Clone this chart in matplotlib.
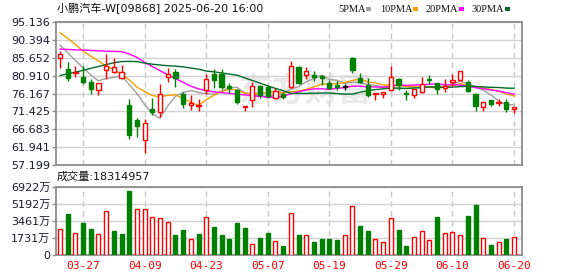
import matplotlib
matplotlib.use("Agg")
import matplotlib.pyplot as plt
from matplotlib.patches import Rectangle
import numpy as np

# 小鹏汽车 daily K-line, 60 sessions up to 2025-06-20
title = "小鹏汽车-W[09868] 2025-06-20 16:00"
vol_title = "成交量:18314957"
date_labels = ["03-27", "04-09", "04-23", "05-07", "05-19", "05-29", "06-10", "06-20"]
date_index = [3, 11, 19, 27, 35, 43, 51, 59]

price_ticks = [57.199, 61.941, 66.683, 71.425, 76.167, 80.910, 85.652, 90.394, 95.136]
vol_ticks = [0, 1731, 3461, 5192, 6922]  # 万股

opens = [85.52, 82.70, 81.55, 80.58, 79.26, 76.97, 82.26, 81.91, 80.32, 73.09,
         69.12, 63.83, 72.11, 71.23, 80.50, 81.82, 76.09, 73.09, 72.91, 76.97,
         81.20, 81.20, 78.20, 76.97, 72.65, 74.50, 78.05, 77.76, 75.11, 76.09,
         77.85, 83.23, 81.02, 80.94, 80.76, 79.00, 78.29, 78.00, 85.43, 80.32,
         78.29, 76.00, 75.99, 76.97, 80.05, 76.35, 75.73, 76.52, 80.05, 78.82,
         77.67, 79.26, 79.62, 79.26, 76.09, 72.56, 74.32, 73.62, 73.88, 72.20]
highs = [87.37, 84.55, 83.40, 83.40, 79.88, 79.00, 86.67, 85.43, 83.76, 74.76,
         69.74, 69.56, 75.03, 78.55, 82.96, 82.52, 76.61, 75.73, 74.67, 81.38,
         82.52, 82.52, 78.90, 77.41, 72.82, 79.18, 78.47, 78.47, 77.58, 76.61,
         84.73, 83.40, 83.14, 82.08, 80.94, 79.62, 79.44, 78.80, 85.79, 81.64,
         80.32, 76.30, 76.60, 83.40, 80.20, 76.97, 77.30, 80.50, 81.02, 79.00,
         79.88, 81.38, 82.10, 79.62, 76.35, 73.90, 74.50, 74.76, 74.59, 72.60]
lows = [82.79, 79.44, 80.50, 78.73, 76.08, 75.90, 79.88, 81.64, 79.88, 64.27,
        64.62, 60.56, 70.44, 69.91, 79.26, 77.85, 72.38, 71.94, 71.50, 76.09,
        77.67, 77.32, 76.30, 73.44, 71.50, 72.55, 74.94, 74.94, 74.67, 74.67,
        77.67, 78.55, 79.88, 79.44, 78.29, 77.32, 76.97, 77.00, 81.64, 78.82,
        75.20, 74.50, 74.85, 76.87, 76.97, 74.32, 75.03, 76.40, 78.73, 76.09,
        76.62, 78.11, 79.44, 76.61, 71.67, 71.67, 72.97, 72.91, 71.32, 71.14]
closes = [86.67, 80.14, 81.82, 79.26, 77.41, 78.91, 83.40, 83.14, 81.82, 65.15,
          67.53, 68.32, 71.23, 75.91, 81.38, 80.32, 73.44, 73.70, 73.18, 80.05,
          79.62, 77.85, 77.60, 73.88, 72.82, 78.22, 75.64, 75.47, 76.70, 75.29,
          83.40, 79.00, 82.08, 80.58, 80.14, 77.67, 77.80, 78.00, 82.26, 79.17,
          75.64, 76.17, 76.52, 80.50, 78.38, 76.09, 77.23, 78.55, 79.70, 77.46,
          78.11, 79.62, 82.08, 76.79, 72.82, 73.88, 73.44, 73.88, 72.12, 72.56]

ma5 = [88.96, 86.93, 84.90, 82.96, 81.06, 79.51, 80.16, 80.42, 80.94, 78.48,
       76.21, 73.19, 70.81, 69.63, 72.87, 75.43, 76.46, 76.95, 76.40, 76.14,
       76.00, 76.88, 77.66, 77.80, 76.35, 76.07, 75.63, 75.21, 75.77, 76.26,
       77.30, 77.97, 79.29, 80.07, 81.04, 79.89, 79.65, 78.84, 79.17, 78.98,
       78.57, 78.25, 77.95, 77.60, 77.44, 77.53, 77.74, 78.15, 77.99, 77.81,
       78.21, 78.69, 79.39, 78.81, 77.88, 77.04, 75.80, 74.16, 73.22, 73.17]
ma10 = [92.23, 90.73, 89.14, 87.37, 86.05, 84.73, 83.40, 82.52, 81.20, 79.77,
        77.86, 76.68, 75.62, 75.28, 75.68, 75.82, 74.82, 73.88, 73.02, 74.51,
        75.72, 76.67, 77.31, 77.10, 76.25, 76.04, 76.26, 76.43, 76.79, 76.31,
        76.69, 76.80, 77.25, 77.92, 78.65, 78.60, 78.81, 79.07, 79.62, 80.01,
        79.23, 78.95, 78.40, 78.39, 78.21, 78.05, 78.00, 78.05, 77.80, 77.62,
        77.87, 78.22, 78.77, 78.40, 77.85, 77.62, 77.25, 76.78, 76.02, 75.53]
ma20 = [87.90, 87.80, 87.70, 87.65, 87.55, 87.45, 87.35, 87.30, 87.25, 86.60,
        85.70, 84.40, 83.30, 82.20, 81.10, 80.10, 79.10, 78.10, 77.40, 76.90,
        76.60, 76.40, 76.20, 76.00, 75.80, 75.60, 75.40, 75.20, 75.10, 75.50,
        76.10, 76.60, 77.10, 77.40, 77.40, 77.30, 77.50, 77.70, 78.10, 78.10,
        77.90, 77.90, 77.80, 78.10, 78.40, 78.30, 78.40, 78.50, 78.60, 78.70,
        78.50, 78.50, 78.40, 78.10, 77.70, 77.40, 77.10, 76.80, 76.40, 76.00]
ma30 = [80.90, 81.40, 81.80, 82.30, 82.80, 83.30, 83.80, 84.30, 84.60, 84.65,
        84.60, 84.20, 83.90, 83.70, 83.50, 83.40, 83.20, 82.90, 82.60, 82.10,
        81.90, 81.60, 81.30, 81.00, 80.30, 79.60, 78.90, 78.20, 77.50, 76.90,
        76.20, 76.20, 76.20, 76.25, 76.30, 76.30, 76.15, 76.00, 76.00, 76.50,
        76.90, 77.20, 77.40, 77.60, 77.60, 77.50, 77.60, 77.70, 77.90, 77.85,
        77.80, 77.85, 78.00, 78.05, 78.05, 77.90, 77.80, 77.75, 77.60, 77.55]

volume = [2621, 4133, 2218, 3226, 2621, 2117, 4435, 2419, 2117, 6451,
          4704, 4704, 3898, 3797, 3394, 2016, 2520, 1579, 2117, 3898,
          2822, 2016, 1613, 3226, 2722, 1109, 1714, 2218, 1411, 907,
          4234, 2016, 1982, 1310, 1613, 1613, 1512, 1982, 5006, 2923,
          2419, 1579, 1277, 3797, 2520, 907, 1781, 2386, 1478, 3830,
          2184, 2285, 1982, 3931, 5040, 1680, 1008, 1277, 1613, 1831]
# 1 = close above previous close (red), 0 = below (green)
vol_up = [1, 0, 1, 0, 0, 1, 1, 0, 0, 0,
          1, 1, 1, 1, 1, 0, 0, 1, 0, 1,
          0, 0, 0, 0, 0, 1, 0, 0, 1, 0,
          1, 0, 1, 0, 0, 0, 0, 1, 1, 0,
          0, 1, 1, 1, 0, 0, 1, 1, 1, 0,
          1, 1, 1, 0, 0, 1, 0, 1, 0, 1]

RED = "#ff0000"
GREEN = "#008000"
MA_COLORS = ["#a0a0a0", "#f0a000", "#ff00ff", "#006a2a"]
CJK = ["DejaVu Sans", "Noto Sans CJK SC"]

W, H = 578, 276


def fx(px):
    return px / W


def fy(py):
    return 1 - py / H


fig = plt.figure(figsize=(W / 100, H / 100), dpi=100)
ax_k = fig.add_axes([fx(56), fy(165.3), fx(522) - fx(56), fy(21.7) - fy(165.3)])
ax_v = fig.add_axes([fx(56), fy(255), fx(522) - fx(56), fy(186.7) - fy(255)])

x = np.arange(len(closes))
o = np.array(opens)
h = np.array(highs)
l = np.array(lows)
c = np.array(closes)

candle_col = np.where(c > o, RED, np.where(c < o, GREEN, "black"))
face_col = np.where(c > o, "white", candle_col)

# candles
ax_k.vlines(x, l, h, colors=candle_col, linewidth=1, zorder=3)
ax_k.bar(x, np.maximum(np.abs(c - o), 0.1), bottom=np.minimum(o, c), width=0.55,
         color=face_col, edgecolor=candle_col, linewidth=1, zorder=4)

# moving averages
for ma, col in zip([ma5, ma10, ma20, ma30], MA_COLORS):
    ax_k.plot(x, ma, color=col, linewidth=1, zorder=2)

# volume
vol_col = np.where(np.array(vol_up) == 1, RED, GREEN)
vol_face = np.where(np.array(vol_up) == 1, "white", GREEN)
ax_v.bar(x, volume, width=0.52, color=vol_face, edgecolor=vol_col, linewidth=1, zorder=3)

for ax in (ax_k, ax_v):
    ax.set_xlim(-0.52, 60.04)
    ax.set_xticks(date_index)
    ax.set_axisbelow(True)
    ax.grid(axis="y", color="#d2d2d2", linewidth=1)
    ax.grid(axis="x", color="#c8c8c8", linewidth=1, linestyle=(0, (4, 3)))
    for s in ax.spines.values():
        s.set_color("#8c8c8c")
        s.set_linewidth(1.3)
    ax.tick_params(axis="y", length=3, width=1, color="#8c8c8c", pad=1,
                   labelsize=8, labelcolor="#1a1a2a")
    ax.tick_params(axis="x", length=0)

ax_k.set_ylim(price_ticks[0], price_ticks[-1])
ax_k.set_yticks(price_ticks)
ax_k.set_yticklabels(["%.3f" % v for v in price_ticks])
ax_k.set_xticklabels([])

ax_v.set_ylim(vol_ticks[0], vol_ticks[-1])
ax_v.set_yticks(vol_ticks)
ax_v.set_yticklabels(["0" if v == 0 else "%d万" % v for v in vol_ticks], family=CJK)
ax_v.set_xticklabels(date_labels, family="DejaVu Sans Mono", fontsize=8, color=RED)
ax_v.tick_params(axis="x", pad=4)

# faint watermark
ax_k.text((305 - 56) / 466, (165.3 - 92) / 143.6, "东方财富", transform=ax_k.transAxes,
          ha="center", va="center", fontsize=24, fontweight="bold", style="italic",
          color="#e9e9e9", family="Noto Sans CJK SC", zorder=0.3)

# header texts
fig.text(fx(57), fy(8), title, family=CJK, fontsize=8, va="center", ha="left", color="#111111")
fig.text(fx(57), fy(177), vol_title, family=CJK, fontsize=8, va="center", ha="left", color="#111111")

legend_x = [338, 380, 426, 472]
square_x = [366, 413, 459, 505]
for name, tx, sx, col in zip(["5PMA", "10PMA", "20PMA", "30PMA"], legend_x, square_x, MA_COLORS):
    fig.text(fx(tx), fy(9), name, family="Liberation Serif", fontsize=7.5,
              va="center", ha="left", color="#111111")
    fig.add_artist(Rectangle((fx(sx), fy(10.5)), 5 / W, 4 / H, transform=fig.transFigure,
                             facecolor=col, edgecolor="none"))

fig.savefig("out.png", dpi=100)
